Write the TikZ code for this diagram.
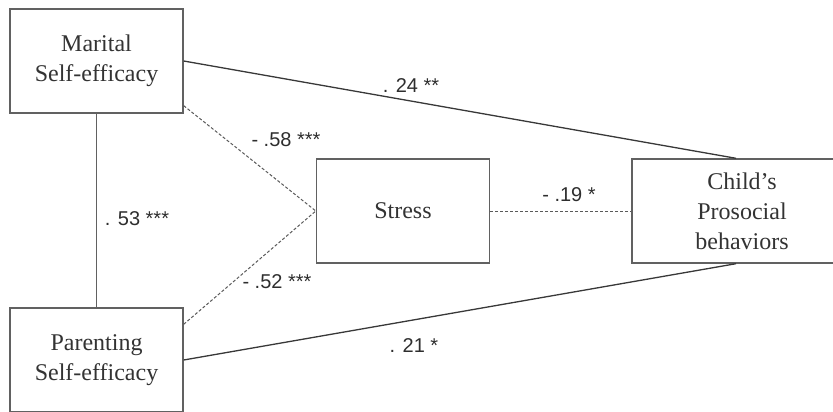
\documentclass[tikz,border=0pt]{standalone}
\usepackage{fontspec}
\setmainfont{Liberation Serif}
\newfontfamily\labfont{Liberation Sans}
\begin{document}
\begin{tikzpicture}[x=1pt,y=-1pt,
  box/.style={draw=black!62,line width=1.4pt,minimum width=173pt,minimum height=104pt,inner sep=0pt,
    align=center,font=\fontsize{24}{30}\selectfont,text=black!80},
  solidlink/.style={draw=black!78,line width=1.3pt},
  dashlink/.style={draw=black!65,line width=1pt,dash pattern=on 3pt off 2pt},
  lab/.style={inner sep=0pt,font=\labfont\fontsize{20}{22}\selectfont,text=black!82}]
\useasboundingbox (0,0) rectangle (833,412);
\begin{scope}
\clip (0,0) rectangle (833,412);
\node[box] (mar) at (96.5,61) {Marital\\Self-efficacy};
\node[box] (par) at (96.5,360) {Parenting\\Self-efficacy};
\node[box] (str) at (403,211) {Stress};
\node[box,minimum width=220pt] (chi) at (742,211) {Child’s\\Prosocial\\behaviors};
\draw[solidlink] (mar.east) -- ([xshift=-6pt]chi.north);
\draw[solidlink] (par.east) -- ([xshift=-6pt]chi.south);
\draw[draw=black!62,line width=1.3pt] (mar.south) -- (par.north);
\draw[dashlink] ([yshift=8pt]mar.south east) -- (str.west);
\draw[dashlink] ([yshift=-17pt]par.north east) -- (str.west);
\draw[dashlink] (str.east) -- (chi.west);
\end{scope}
\node[lab] (l24) at (411,86) {. 24 **};
\node[lab] (l58) at (286,140) {- .58 ***};
\node[lab] (l53) at (137,219) {. 53 ***};
\node[lab] (l52) at (277,282) {- .52 ***};
\node[lab] (l21) at (414,346) {. 21 *};
\node[lab] (l19) at (569,195) {- .19 *};
\end{tikzpicture}
\end{document}
